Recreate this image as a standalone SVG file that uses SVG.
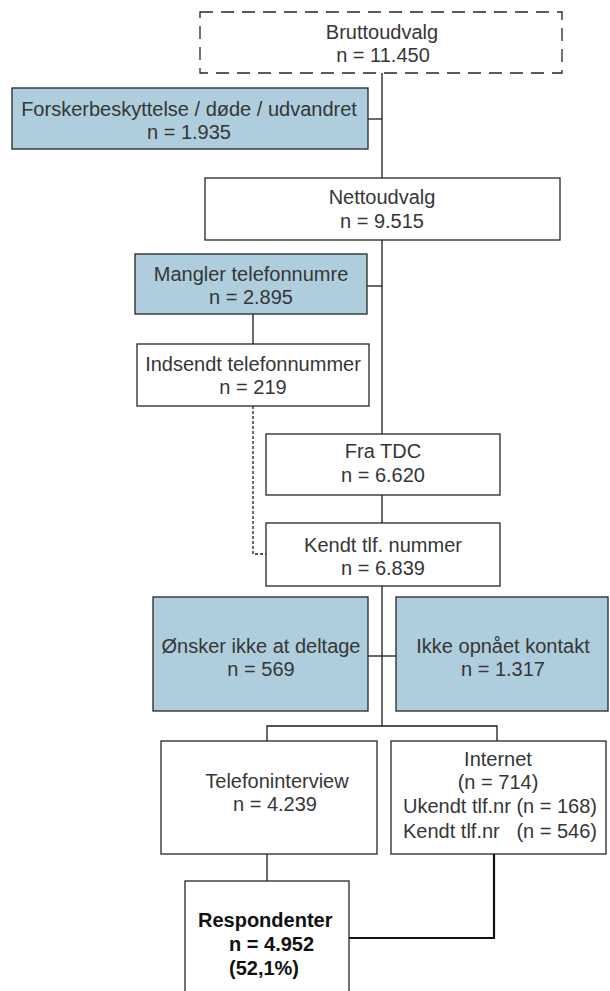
<svg xmlns="http://www.w3.org/2000/svg" width="610" height="991" viewBox="0 0 610 991">
<style>
.box{fill:#ffffff;stroke:#262626;stroke-width:1.3}
.blue{fill:#aecddd;stroke:#262626;stroke-width:1.3}
.dash{fill:#ffffff;stroke:#262626;stroke-width:1.3;stroke-dasharray:13,8}
.ln{fill:none;stroke:#1a1a1a;stroke-width:1.3}
.dot{fill:none;stroke:#1a1a1a;stroke-width:1.3;stroke-dasharray:3,2}
.thick{fill:none;stroke:#111111;stroke-width:2.2}
text{font-family:"Liberation Sans",Arial,sans-serif;font-size:20px;fill:#363636;text-anchor:middle}
.b{font-weight:bold;fill:#111111;text-anchor:start}
</style>
<rect width="610" height="991" fill="#ffffff"/>
<g id="connectors">
<path class="ln" d="M382 73 V726"/>
<path class="ln" d="M368 119 H382"/>
<path class="ln" d="M367 286 H382"/>
<path class="ln" d="M253 314 V344"/>
<path class="dot" d="M253 406 V554 H266"/>
<path class="ln" d="M368 656 H396"/>
<path class="ln" d="M267 741 V726 H497 V741"/>
<path class="ln" d="M267 854 V881"/>
<path class="thick" d="M494 854 V938 H349"/>
</g>
<g id="bruttoudvalg">
<rect class="dash" x="200" y="12" width="362" height="61"/>
<text x="382" y="39">Bruttoudvalg</text>
<text x="383" y="62">n = 11.450</text>
</g>
<g id="forskerbeskyttelse">
<rect class="blue" x="12" y="88" width="356" height="61"/>
<text x="189" y="116">Forskerbeskyttelse / døde / udvandret</text>
<text x="189" y="139">n = 1.935</text>
</g>
<g id="nettoudvalg">
<rect class="box" x="205" y="178" width="355" height="62"/>
<text x="382" y="204">Nettoudvalg</text>
<text x="382" y="228">n = 9.515</text>
</g>
<g id="mangler">
<rect class="blue" x="135" y="254" width="232" height="60"/>
<text x="251" y="281">Mangler telefonnumre</text>
<text x="251" y="304">n = 2.895</text>
</g>
<g id="indsendt">
<rect class="box" x="137" y="344" width="232" height="62"/>
<text x="253" y="371">Indsendt telefonnummer</text>
<text x="253" y="394">n = 219</text>
</g>
<g id="fratdc">
<rect class="box" x="266" y="434" width="234" height="61"/>
<text x="383" y="458">Fra TDC</text>
<text x="383" y="482">n = 6.620</text>
</g>
<g id="kendt">
<rect class="box" x="266" y="523" width="234" height="63"/>
<text x="383" y="552">Kendt tlf. nummer</text>
<text x="383" y="575">n = 6.839</text>
</g>
<g id="oensker">
<rect class="blue" x="153" y="597" width="215" height="114"/>
<text x="261" y="653">Ønsker ikke at deltage</text>
<text x="261" y="676">n = 569</text>
</g>
<g id="ikkeopnaaet">
<rect class="blue" x="396" y="597" width="212" height="114"/>
<text x="503" y="653">Ikke opnået kontakt</text>
<text x="503" y="676">n = 1.317</text>
</g>
<g id="telefoninterview">
<rect class="box" x="161" y="741" width="216" height="113"/>
<text x="277" y="788">Telefoninterview</text>
<text x="275" y="811">n = 4.239</text>
</g>
<g id="internet">
<rect class="box" x="391" y="741" width="215" height="113"/>
<text x="498" y="766">Internet</text>
<text x="498" y="789">(n = 714)</text>
<text x="500" y="813">Ukendt tlf.nr (n = 168)</text>
<text x="500" y="838" xml:space="preserve">Kendt tlf.nr   (n = 546)</text>
</g>
<g id="respondenter">
<rect class="box" x="185" y="881" width="164" height="115"/>
<text class="b" x="198" y="927">Respondenter</text>
<text class="b" x="229" y="951">n = 4.952</text>
<text class="b" x="229" y="975">(52,1%)</text>
</g>
</svg>
